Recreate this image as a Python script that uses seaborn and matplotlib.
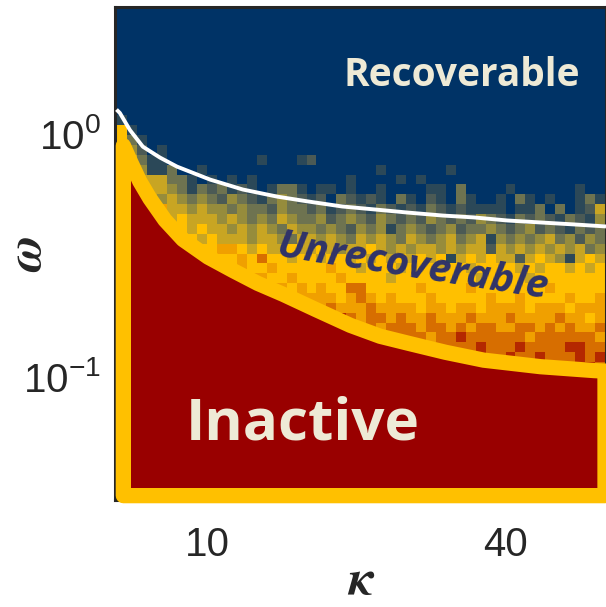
import numpy as np
import pandas as pd
import matplotlib
matplotlib.use("Agg")
import matplotlib.pyplot as plt
from matplotlib.colors import ListedColormap
from matplotlib.patches import Polygon
import seaborn as sns

# ---- grid of the sweep: one column per integer kappa, 50 log-spaced epsilon rows ----
kappa_edges = np.arange(0, 51)
log_eps_top = 0.518
log_eps_bottom = -1.506
n_rows = 50

# outcome level per cell (row 0 = largest epsilon); 9 = recoverable ... 0 = inactive
level_rows = [
    "9999999999 9999999999 9999999999 9999999999 9999999999",
    "9999999999 9999999999 9999999999 9999999999 9999999999",
    "9999999999 9999999999 9999999999 9999999999 9999999999",
    "9999999999 9999999999 9999999999 9999999999 9999999999",
    "9999999999 9999999999 9999999999 9999999999 9999999999",
    "9999999999 9999999999 9999999999 9999999999 9999999999",
    "9999999999 9999999999 9999999999 9999999999 9999999999",
    "9999999999 9999999999 9999999999 9999999999 9999999999",
    "9999999999 9999999999 9999999999 9999999999 9999999999",
    "9999999999 9999999999 9999999999 9999999999 9999999999",
    "9999999999 9999999999 9999999999 9999999999 9999999999",
    "9899999999 9999999999 9999999999 9999999999 9999999999",
    "3389999999 9999999999 9999999999 9999999999 9999999999",
    "4368999999 9999999999 9999999999 9999999999 9999999999",
    "3457989999 9999999999 9999999999 9999999999 9999999999",
    "4346889999 9999989998 7999999999 9999999999 9999999999",
    "3455886998 9999999999 9999999899 9999899999 9999999999",
    "3344446689 8989899999 9999899998 9899999999 9999999999",
    "3343445686 7687898668 9889899899 9988969999 8999999899",
    "3334454565 6756786567 8796787896 8978968998 9689899868",
    "3333424454 5565667566 7687678678 7867878888 9886969874",
    "3333344344 4545656456 6576567567 6756767567 8676786785",
    "3333334343 4454545645 5656756586 5676576656 7657678676",
    "3333333334 3444544564 4545645456 4565465485 6565465756",
    "3333333333 3223434434 4345443454 5445454474 5454545465",
    "3333333333 3332313343 3433434343 4343843434 4743458434",
    "2222222222 2332332333 3323343334 3334334333 3434334343",
    "2222222222 1223223323 3332333343 3333333433 3343333333",
    "1111111111 1122212232 3233113333 3233332333 3333233333",
    "1111111111 1112122122 2223212323 3323333323 3233332332",
    "0000000000 0111112112 1212221222 2322322322 2232223222",
    "0000000000 0011011111 1110121121 2212221222 1222212232",
    "0000000000 0001010110 1101111211 1211212112 2112121221",
    "0000000000 0000001010 0100101111 1121101111 1121111112",
    "0000000000 0000000000 0010010110 1101111011 1011110011",
    "0000000000 0000000000 0000000000 0101011011 0110111010",
    "0000000000 0000000000 0000000000 0000000000 0010010001",
] + ["0000000000 0000000000 0000000000 0000000000 0000000000"] * 13

level_colors = [
    "#b42800",  # 0 red-brown
    "#d76e00",  # 1 dark orange
    "#f0a000",  # 2 orange
    "#ffc000",  # 3 yellow
    "#c8a523",  # 4 mustard
    "#968c3c",  # 5 olive
    "#6e7350",  # 6 olive grey
    "#4b5a55",  # 7 slate olive
    "#2b4858",  # 8 dark slate
    "#003366",  # 9 navy
]

# recoverability boundary (white curve)
white_kappa = [0.9, 1.24, 2.25, 3.55, 5.27, 6.98, 10.3, 13.6, 17.05, 20.2, 23.6,
               26.9, 30.2, 33.7, 36.8, 40.2, 43.5, 46.9, 50.1]
white_eps = [1.25, 1.21, 1.03, 0.88, 0.794, 0.729, 0.645, 0.587, 0.549, 0.524, 0.500,
             0.486, 0.472, 0.459, 0.451, 0.438, 0.430, 0.422, 0.414]

# inactive region outline
inactive_kappa = [1.59, 1.59, 50.0, 50.0, 48.9, 43.5, 37.8, 33.97, 30.24, 27.4, 24.4,
                  20.9, 17.65, 15.1, 12.6, 10.1, 7.58, 5.77, 4.26, 3.25, 2.35]
inactive_eps = [0.889, 0.0325, 0.0325, 0.1055, 0.106, 0.110, 0.117, 0.126, 0.1372, 0.1466,
                0.1626, 0.189, 0.218, 0.2417, 0.273, 0.31, 0.366, 0.44, 0.539, 0.633, 0.757]

x_ticks = [10, 40]
y_ticks = [0.1, 1.0]

# ---- long-form table for the 2D histogram ----
levels = np.array([[int(ch) for ch in row.replace(" ", "")] for row in level_rows])
log_edges_desc = np.linspace(log_eps_top, log_eps_bottom, n_rows + 1)
log_centres = 0.5 * (log_edges_desc[:-1] + log_edges_desc[1:])
kappa_centres = 0.5 * (kappa_edges[:-1] + kappa_edges[1:])
kk, ll = np.meshgrid(kappa_centres, log_centres)
df = pd.DataFrame({"kappa": kk.ravel(), "eps": 10 ** ll.ravel(), "level": levels.ravel()})

sns.set_theme(style="ticks")
plt.rcParams["font.family"] = ["Liberation Sans", "DejaVu Sans"]

fig = plt.figure(figsize=(6.06, 6.07), dpi=100)
ax = fig.add_axes([115 / 606, 107 / 607, 491 / 606, 493 / 607])

sns.histplot(data=df, x="kappa", y="eps", weights="level",
             bins=(kappa_edges, log_edges_desc[::-1]), log_scale=(False, True),
             cmap=ListedColormap(level_colors), vmin=-0.5, vmax=9.5, thresh=None,
             cbar=False, ax=ax)

ax.set_xlim(0.75, 50.1)
ax.set_ylim(10 ** log_eps_bottom, 10 ** log_eps_top)

ax.add_patch(Polygon(np.column_stack([inactive_kappa, inactive_eps]), closed=True,
                     facecolor="#990000", edgecolor="#ffc000", linewidth=11,
                     joinstyle="round", zorder=3, clip_on=False))
ax.plot(white_kappa, white_eps, color="white", lw=2.8, zorder=4, solid_capstyle="butt")

cream = "#eeead6"
ax.text(35.6, 1.566, "Recoverable", ha="center", va="baseline", fontsize=28,
        fontweight="bold", family="Open Sans", color=cream, zorder=5)
ax.text(30.6, 0.283, "Unrecoverable", ha="center", va="center", rotation=-9,
        rotation_mode="anchor", fontsize=29, fontweight="bold", fontstyle="italic",
        family="Open Sans", color="#2f336a", zorder=5)
ax.text(19.6, 0.0554, "Inactive", ha="center", va="baseline", fontsize=42,
        fontweight="bold", family="Open Sans", color=cream, zorder=5)

ax.set_xticks(x_ticks)
ax.set_xticklabels([str(t) for t in x_ticks])
ax.set_yticks(y_ticks)
ax.set_yticklabels([r"$\mathdefault{10^{-1}}$", r"$\mathdefault{10^{0}}$"])

dark = "#262626"
ax.tick_params(axis="both", which="both", direction="in", top=True, right=True,
               colors=dark, labelcolor=dark)
ax.tick_params(axis="both", which="major", length=7, width=1.3, labelsize=29)
ax.tick_params(axis="both", which="minor", length=4, width=1.1)
ax.tick_params(axis="x", which="major", pad=19)
ax.tick_params(axis="y", which="major", pad=10)
for side in ["left", "top", "right", "bottom"]:
    ax.spines[side].set_linewidth(2.2)
    ax.spines[side].set_color(dark)

ax.set_xlabel("κ", family="STIXGeneral", fontweight="bold", fontstyle="italic",
              fontsize=36, color=dark, labelpad=-4)
ax.set_ylabel("ω", family="STIXGeneral", fontweight="bold", fontstyle="italic",
              fontsize=36, color=dark)
ax.yaxis.set_label_coords(-0.13, 0.5)

fig.savefig("out.png", dpi=100)
